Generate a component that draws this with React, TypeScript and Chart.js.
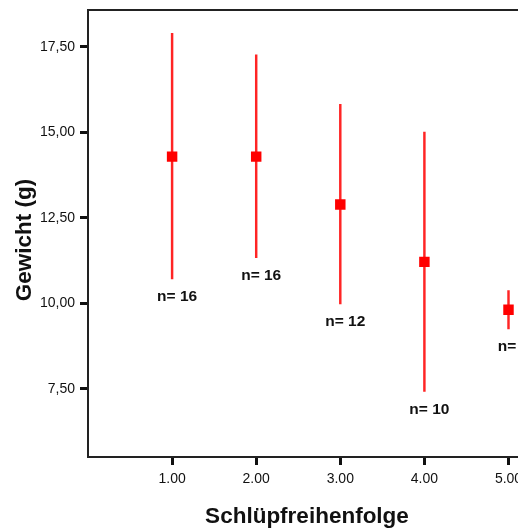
import { useEffect, useRef } from "react";
import { Chart, registerables } from "chart.js";

Chart.register(...registerables);

// Hatching order groups and the weight summary per group (mean with interval)
const birthOrder = [1, 2, 3, 4, 5];
const meanWeight = [14.29, 14.29, 12.89, 11.21, 9.81];
const intervalLow = [10.71, 11.33, 9.98, 7.42, 9.25];
const intervalHigh = [17.9, 17.27, 15.82, 15.01, 10.37];
const groupSize = [16, 16, 12, 10, 5];

const yTickValues = [7.5, 10, 12.5, 15, 17.5];
const yTickLabels = ["7,50", "10,00", "12,50", "15,00", "17,50"];
const xTickValues = [1, 2, 3, 4, 5];
const xTickLabels = ["1.00", "2.00", "3.00", "4.00", "5.00"];

const FONT = '"Liberation Sans", Arial, Helvetica, sans-serif';
const INK = "#111111";
const RED = "#ff0000";

const extras = {
  id: "extras",
  afterDraw(chart: any) {
    const { ctx, chartArea } = chart;
    const xs = chart.scales.x;
    const ys = chart.scales.y;
    ctx.save();

    // upper frame line
    ctx.strokeStyle = "#222222";
    ctx.lineWidth = 2;
    ctx.beginPath();
    ctx.moveTo(chartArea.left - 1, chartArea.top);
    ctx.lineTo(chartArea.right, chartArea.top);
    ctx.stroke();

    // group sizes under each interval
    ctx.fillStyle = INK;
    ctx.font = `bold 15.5px ${FONT}`;
    ctx.textAlign = "center";
    ctx.textBaseline = "middle";
    birthOrder.forEach((g, i) => {
      ctx.fillText(
        `n= ${groupSize[i]}`,
        xs.getPixelForValue(g) + 5,
        ys.getPixelForValue(intervalLow[i]) + 18
      );
    });

    // axis titles
    ctx.font = `bold 22.5px ${FONT}`;
    ctx.textBaseline = "alphabetic";
    ctx.fillText("Schlüpfreihenfolge", 307, 523);
    ctx.translate(31, 240);
    ctx.rotate(-Math.PI / 2);
    ctx.fillText("Gewicht (g)", 0, 0);

    ctx.restore();
  },
};

export default function App() {
  const canvasRef = useRef<HTMLCanvasElement | null>(null);

  useEffect(() => {
    if (!canvasRef.current) return;
    const chart = new Chart(canvasRef.current, {
      type: "scatter",
      data: {
        datasets: [
          {
            type: "scatter",
            data: birthOrder.map((g, i) => ({ x: g, y: meanWeight[i] })),
            pointStyle: "rect",
            pointRadius: 7.4,
            pointHoverRadius: 7.4,
            backgroundColor: RED,
            borderColor: RED,
            borderWidth: 0,
            order: 0,
          } as any,
          {
            type: "bar",
            data: birthOrder.map((g, i) => ({ x: g, y: [intervalLow[i], intervalHigh[i]] })),
            backgroundColor: "#ff2424",
            borderWidth: 0,
            barThickness: 1.8,
            order: 1,
          } as any,
        ],
      },
      options: {
        animation: false,
        responsive: false,
        devicePixelRatio: 1,
        layout: { padding: { left: 0, top: 10, right: 7, bottom: 0 } },
        plugins: {
          legend: { display: false },
          tooltip: { enabled: false },
        },
        scales: {
          x: {
            type: "linear",
            min: 0,
            max: 6,
            offset: false,
            grid: {
              display: true,
              drawOnChartArea: false,
              drawTicks: true,
              tickLength: 8,
              tickWidth: 3,
              tickColor: INK,
              offset: false,
            },
            border: { display: true, color: "#222222", width: 2 },
            ticks: {
              font: { family: FONT, size: 14 },
              color: INK,
              padding: 6,
              autoSkip: false,
              maxRotation: 0,
              callback: (v: any) => xTickLabels[xTickValues.indexOf(Number(v))] ?? "",
            },
            afterBuildTicks: (s: any) => {
              s.ticks = xTickValues.map((v) => ({ value: v }));
            },
            afterFit: (s: any) => {
              s.height = 74;
              s.paddingLeft = 0;
              s.paddingRight = 0;
            },
          },
          y: {
            type: "linear",
            min: 5.5,
            max: 18.58,
            beginAtZero: false,
            grid: {
              display: true,
              drawOnChartArea: false,
              drawTicks: true,
              tickLength: 8,
              tickWidth: 3,
              tickColor: INK,
            },
            border: { display: true, color: "#222222", width: 2 },
            ticks: {
              font: { family: FONT, size: 14 },
              color: INK,
              padding: 5,
              autoSkip: false,
              callback: (v: any) => yTickLabels[yTickValues.indexOf(Number(v))] ?? "",
            },
            afterBuildTicks: (s: any) => {
              s.ticks = yTickValues.map((v) => ({ value: v }));
            },
            afterFit: (s: any) => {
              s.width = 88;
              s.paddingTop = 0;
              s.paddingBottom = 0;
            },
          },
        },
      } as any,
      plugins: [extras],
    });
    return () => chart.destroy();
  }, []);

  return (
    <div
      style={{
        position: "fixed",
        left: 0,
        top: 0,
        width: 518,
        height: 531,
        overflow: "hidden",
        background: "#ffffff",
      }}
    >
      <canvas ref={canvasRef} width={600} height={531} style={{ display: "block" }} />
    </div>
  );
}
